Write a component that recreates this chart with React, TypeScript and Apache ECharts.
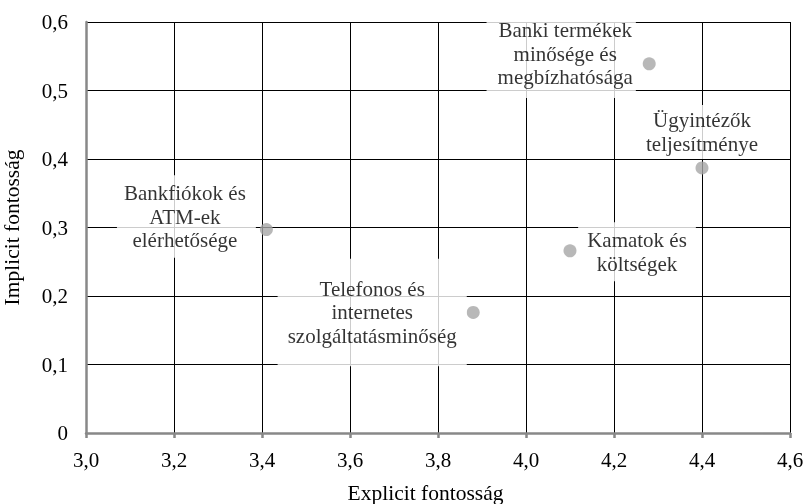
import React, { useEffect, useRef } from "react";
import * as echarts from "echarts";

const names = [
  "Bankfiókok és\nATM-ek\nelérhetősége",
  "Telefonos és\ninternetes\nszolgáltatásminőség",
  "Kamatok és\nköltségek",
  "Banki termékek\nminősége és\nmegbízhatósága",
  "Ügyintézők\nteljesítménye",
];
const explicitValues = [3.41, 3.88, 4.1, 4.28, 4.4];
const implicitValues = [0.297, 0.176, 0.266, 0.539, 0.387];

const xTicks = { min: 3.0, max: 4.6, interval: 0.2 };
const yTicks = { min: 0, max: 0.6, interval: 0.1 };

// label text-centre shift relative to the marker, and padding
const labelShift: number[][] = [
  [-80, -13],
  [-101, 0],
  [67, 1],
  [-88, -10],
  [0, -36],
];
const labelPadding: number[][] = [
  [4, 10, 8, 7],
  [18, 10, 19, 10],
  [10, 9, 2, 9],
  [4, 3, 14, 11],
  [4, 9, 3, 9],
];

const FONT = "Liberation Serif";

const fmt = (v: number) => (v === 0 ? "0" : v.toFixed(1).replace(".", ","));

export default function App() {
  const ref = useRef<HTMLDivElement>(null);
  useEffect(() => {
    if (!ref.current) return;
    const chart = echarts.init(ref.current, undefined, { renderer: "svg" });
    const data = names.map((n, i) => ({
      name: n,
      value: [explicitValues[i], implicitValues[i]],
      label: {
        show: true,
        formatter: n,
        padding: labelPadding[i],
      },
    }));
    chart.setOption({
      animation: false,
      textStyle: { fontFamily: FONT },
      grid: {
        left: 86,
        right: 17,
        top: 22,
        bottom: 71,
        containLabel: false,
        outerBoundsMode: "none",
      },
      xAxis: {
        type: "value",
        min: xTicks.min,
        max: xTicks.max,
        interval: xTicks.interval,
        name: "Explicit fontosság",
        nameLocation: "middle",
        nameGap: 49,
        nameTextStyle: { fontFamily: FONT, fontSize: 21.5, color: "#000", padding: [0, 25, 0, 0] },
        axisLine: { show: true, lineStyle: { color: "#888", width: 2.5 } },
        axisTick: { show: true, inside: false, length: 5, lineStyle: { color: "#888", width: 2.5 } },
        axisLabel: { formatter: fmt, fontFamily: FONT, fontSize: 21, color: "#000", margin: 16 },
        splitLine: { show: true, lineStyle: { color: "#000", width: 1 } },
      },
      yAxis: {
        type: "value",
        min: yTicks.min,
        max: yTicks.max,
        interval: yTicks.interval,
        name: "Implicit fontosság",
        nameLocation: "middle",
        nameGap: 63,
        nameTextStyle: { fontFamily: FONT, fontSize: 21.5, color: "#000" },
        axisLine: { show: true, lineStyle: { color: "#888", width: 2.5 } },
        axisTick: { show: false },
        axisLabel: { formatter: fmt, fontFamily: FONT, fontSize: 21, color: "#000", margin: 18 },
        splitLine: { show: true, lineStyle: { color: "#000", width: 1 } },
      },
      series: [
        {
          type: "scatter",
          symbol: "circle",
          symbolSize: 13,
          itemStyle: { color: "#a6a6a6" },
          label: {
            show: true,
            position: "inside",
            fontFamily: FONT,
            fontSize: 21,
            lineHeight: 23.5,
            color: "#000",
            align: "center",
            verticalAlign: "middle",
            backgroundColor: "#fff",
          },
          labelLayout: (params: any) => ({
            dx: labelShift[params.dataIndex][0],
            dy: labelShift[params.dataIndex][1],
          }),
          data,
          z: 3,
        },
      ],
    });
    return () => chart.dispose();
  }, []);
  return (
    <div
      ref={ref}
      style={{ position: "fixed", left: 0, top: 0, width: 807, height: 504 }}
    />
  );
}
